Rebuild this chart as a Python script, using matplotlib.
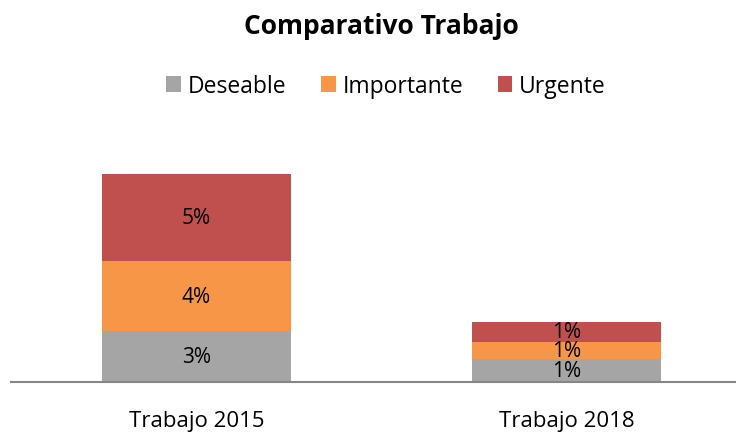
import numpy as np
import matplotlib.pyplot as plt

plt.rcParams['font.family'] = ['Open Sans', 'DejaVu Sans']

categorias = ["Trabajo 2015", "Trabajo 2018"]
deseable = [2.9, 1.3]
importante = [4.0, 1.0]
urgente = [5.0, 1.15]
series = ["Deseable", "Importante", "Urgente"]
colores = ["#a5a5a5", "#f79646", "#c0504d"]

fig = plt.figure(figsize=(7.36, 4.39), dpi=100)
# area de grafico (en pixeles de la imagen)
ax = fig.add_axes([11 / 736, 56 / 439, 741 / 736, 233 / 439])

x = np.arange(len(categorias))
base = np.zeros(len(categorias))
barras = []
for nombre, vals, col in zip(series, [deseable, importante, urgente], colores):
    b = ax.bar(x, vals, width=0.51, bottom=base, color=col, label=nombre)
    for xi, v, b0 in zip(x, vals, base):
        ax.text(xi, b0 + v / 2, "{:.0f}%".format(v), ha="center", va="center",
                fontsize=15, color="black")
    barras.append(b)
    base = base + np.array(vals)

ax.set_xlim(-0.5, 1.5)
ax.set_ylim(0, 233 / 17.5)
ax.set_yticks([])
ax.set_xticks(x)
ax.set_xticklabels(categorias, fontsize=16)
ax.tick_params(axis="x", length=0, pad=20)
for s in ["top", "left", "right"]:
    ax.spines[s].set_visible(False)
ax.spines["bottom"].set_color("#868686")
ax.spines["bottom"].set_linewidth(1.5)

fig.text(381 / 736, 1 - 27 / 439, "Comparativo Trabajo", ha="center", va="center",
         fontsize=19, fontweight="bold")
fig.legend(handles=barras, labels=series, loc="center", ncol=3,
           bbox_to_anchor=(386 / 736, 1 - 87 / 439), frameon=False, fontsize=16.5,
           handlelength=0.65, handleheight=0.65, handletextpad=0.3, columnspacing=1.5)

fig.savefig("out.png", dpi=100)
